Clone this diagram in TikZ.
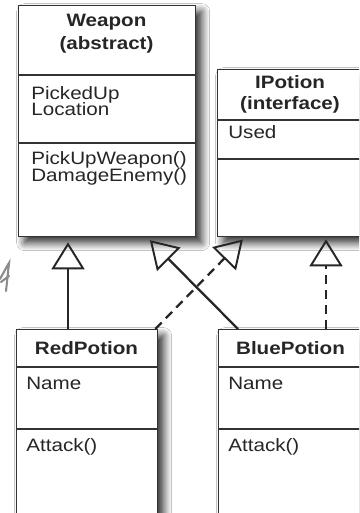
\documentclass[tikz,border=0pt]{standalone}
\usepackage{fontspec}
\setmainfont{Liberation Sans}[FakeStretch=1.15]
\usetikzlibrary{arrows.meta,calc,shadows.blur}
\newdimen\pxu \pxu=0.02cm

\begin{document}
\begin{tikzpicture}[
        x=0.02cm, y=-0.02cm,
        font=\fontsize{10.2}{11}\selectfont, text=black!85,
        classbox/.style={draw=black!80, line width=0.75pt, fill=white, anchor=north west, inner sep=0pt,
          blur shadow={shadow xshift=6\pxu, shadow yshift=-6\pxu, shadow blur radius=8\pxu, shadow blur steps=10, shadow opacity=85}},
        classname/.style={font=\fontsize{10.2}{11}\selectfont\bfseries, anchor=base, inner sep=0pt},
        member/.style={anchor=base west, inner sep=0pt},
        divider/.style={draw=black!80, line width=0.75pt},
        inherit/.style={line width=1.3pt, draw=black!85, -{Triangle[open, length=0.54cm, width=0.66cm, line width=1.1pt]}},
        realize/.style={inherit, dash pattern=on 9\pxu off 6\pxu}
      ]
      \clip (0,0) rectangle (359,513);
      \fill[white] (0,0) rectangle (359,513);

      % class boxes
      \node[classbox, minimum width=177\pxu, minimum height=231\pxu] (weapon) at (18,5) {};
      \node[classbox, minimum width=146\pxu, minimum height=167\pxu] (ipotion) at (217,69) {};
      \node[classbox, minimum width=141\pxu, minimum height=200\pxu] (red) at (16,329) {};
      \node[classbox, minimum width=145\pxu, minimum height=200\pxu] (blue) at (218,329) {};

      % compartments
      \draw[divider] ($(weapon.north west)+(0,70)$) -- ($(weapon.north east)+(0,70)$);
      \draw[divider] ($(weapon.north west)+(0,138)$) -- ($(weapon.north east)+(0,138)$);
      \draw[divider] ($(ipotion.north west)+(0,51)$) -- ($(ipotion.north east)+(0,51)$);
      \draw[divider] ($(ipotion.north west)+(0,90)$) -- ($(ipotion.north east)+(0,90)$);
      \draw[divider] ($(red.north west)+(0,38)$) -- ($(red.north east)+(0,38)$);
      \draw[divider] ($(red.north west)+(0,100)$) -- ($(red.north east)+(0,100)$);
      \draw[divider] ($(blue.north west)+(0,38)$) -- ($(blue.north east)+(0,38)$);
      \draw[divider] ($(blue.north west)+(0,100)$) -- ($(blue.north east)+(0,100)$);

      % texts
      \node[classname] (weapon-name) at (106.5,27) {Weapon};
      \node[classname] (weapon-kind) at (106.5,50) {(abstract)};
      \node[member] (picked) at (31,100) {PickedUp};
      \node[member] (location) at (31,116) {Location};
      \node[member] (pickup) at (31,165) {PickUpWeapon()};
      \node[member] (damage) at (31,181) {DamageEnemy()};

      \node[classname] (ipotion-name) at (290,89) {IPotion};
      \node[classname] (ipotion-kind) at (290,110) {(interface)};
      \node[member] (used) at (228,139) {Used};

      \node[classname] (red-name) at (86.5,354) {RedPotion};
      \node[member] (red-attr) at (26,389) {Name};
      \node[member] (red-op) at (26,451) {Attack()};

      \node[classname] (blue-name) at (290.5,354) {BluePotion};
      \node[member] (blue-attr) at (228,389) {Name};
      \node[member] (blue-op) at (228,451) {Attack()};

      % connectors
      \coordinate (red-up) at ($(red.north west)+(52,0)$);
      \coordinate (red-side) at ($(red.north east)+(-3,0)$);
      \coordinate (blue-side) at ($(blue.north west)+(20,0)$);
      \coordinate (blue-up) at ($(blue.north west)+(108,0)$);
      \coordinate (weapon-in) at ($(weapon.south west)+(129,0)$);
      \coordinate (ipotion-in) at ($(ipotion.south west)+(28,0)$);

      \draw[inherit, shorten >=0.1cm] (red-up) -- (red-up |- weapon.south);
      \draw[inherit, shorten >=0.08cm] (blue-side) -- (weapon-in);
      \draw[realize, shorten >=0.06cm] (red-side) -- (ipotion-in);
      \draw[realize, shorten >=0.04cm] (blue-up) -- (blue-up |- ipotion.south);

      % pen mark at the left edge
      \draw[black!45, line width=1.2pt, line cap=round] (0,279) .. controls (4,272) and (7,266) .. (9,263)
        .. controls (8,272) and (7,282) .. (6,291);
      \draw[black!45, line width=1.2pt, line cap=round] (1,282) -- (9,276);
    \end{tikzpicture}
\end{document}
